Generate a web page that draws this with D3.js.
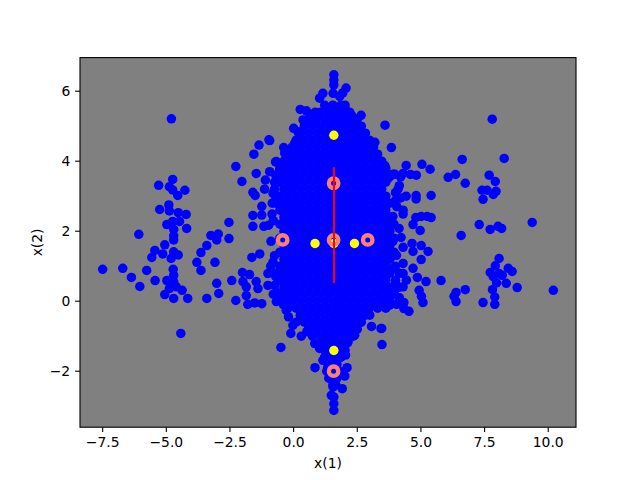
<!DOCTYPE html>
<html>
<head>
<meta charset="utf-8">
<script src="https://cdn.jsdelivr.net/npm/d3@7"></script>
<style>
  html, body { margin: 0; background: #fff; }
  text { font-family: "DejaVu Sans", sans-serif; }
</style>
</head>
<body>
<svg id="chart" width="640" height="480"></svg>
<script>
// tick labels
var xTicks = [-7.5, -5, -2.5, 0, 2.5, 5, 7.5, 10],
    xTickLabels = ["−7.5", "−5.0", "−2.5", "0.0", "2.5", "5.0", "7.5", "10.0"],
    yTicks = [-2, 0, 2, 4, 6],
    yTickLabels = ["−2", "0", "2", "4", "6"];

// blue samples
var leftFar = [[-4.80,5.21],[-4.75,3.48],[-5.30,3.31],[-4.88,3.27],[-4.75,3.18],[-4.27,3.17],[-4.55,3.02],[-5.26,2.62],[-4.90,2.75],[-4.88,2.58],[-4.53,2.53],[-4.22,2.48],[-4.48,2.28],[-4.75,2.28],[-4.98,2.19],[-4.20,2.08],[-4.71,2.05],[-6.08,1.91],[-4.71,1.87],[-4.71,1.75],[-5.06,1.61],[-5.45,1.45],[-5.14,1.35],[-5.57,1.25],[-4.71,1.41],[-4.53,1.32],[-4.81,1.22],[-7.50,0.91],[-6.71,0.94],[-6.37,0.68],[-6.04,0.42],[-5.77,0.88],[-5.44,0.59],[-4.73,0.91],[-4.71,0.74],[-4.98,0.59],[-4.71,0.55],[-4.61,0.41],[-4.88,0.36],[-4.38,0.31],[-5.06,0.19],[-4.71,0.08],[-4.16,0.08],[-4.43,-0.92]];

var leftMid = [[-2.54,2.25],[-2.54,1.79],[-3.25,1.88],[-2.96,1.92],[-3.02,1.75],[-3.41,1.59],[-3.64,1.39],[-3.80,1.11],[-3.64,0.88],[-3.09,1.11],[-3.02,0.51],[-2.43,0.59],[-2.94,0.22],[-3.41,0.08],[-2.27,0.02],[-1.33,1.35],[-1.64,1.25],[-2.01,0.82],[-1.73,0.76],[-1.99,0.56],[-1.47,0.56],[-1.86,0.41],[-1.40,0.36],[-1.01,0.45],[-1.86,0.16],[-1.80,-0.09],[-1.53,-0.05],[-1.25,-0.07],[-0.68,-0.01],[-1.01,0.79],[-0.81,1.12],[-1.36,4.46],[-1.56,4.20],[-0.97,4.61],[-2.27,3.85],[-1.47,3.65],[-2.03,3.42],[-0.94,3.70],[-0.68,3.99],[-1.11,3.46],[-1.14,3.20],[-1.60,3.11],[-1.51,3.02],[-0.81,3.08],[-1.25,2.71],[-0.84,2.80],[-1.60,2.45],[-1.25,2.46],[-0.85,2.49],[-1.60,2.14],[-1.17,2.14],[-0.98,2.17],[-0.89,1.71],[-0.75,0.45],[-0.70,0.70],[-0.65,0.25],[-0.80,0.20],[-0.45,0.00],[-0.90,1.00],[-0.75,1.30],[-0.80,2.30],[-0.70,2.90],[-0.75,3.20],[-0.75,3.40],[-0.20,-0.45],[0.10,-0.60],[-0.40,-0.10],[0.30,-1.00]];

var rightNear = [[3.59,5.03],[3.84,4.39],[3.57,3.88],[4.42,3.88],[5.04,3.91],[5.36,3.77],[3.90,3.63],[4.30,3.65],[4.59,3.62],[4.82,3.60],[3.71,3.51],[4.10,3.20],[4.42,3.00],[4.81,3.02],[4.81,2.92],[5.40,3.02],[4.01,2.89],[4.30,2.60],[4.30,2.49],[3.90,2.42],[4.80,2.39],[5.01,2.42],[5.24,2.42],[5.40,2.39],[4.69,2.19],[4.97,2.02],[4.14,2.08],[4.22,1.82],[3.90,1.71],[4.30,1.54],[4.65,1.65],[5.01,1.59],[4.69,1.42],[5.28,1.42],[5.01,1.19],[4.04,1.31],[4.30,1.08],[4.69,0.94],[3.90,0.94],[4.86,0.68],[5.20,0.56],[5.79,0.59],[4.30,0.79],[4.43,0.60],[4.30,0.41],[4.93,0.31],[5.02,0.14],[5.08,-0.04],[4.53,-0.29],[4.33,-0.04],[4.33,-0.21],[3.77,-0.11],[4.04,-0.09],[3.46,-0.78],[3.51,0.12],[4.00,1.00],[4.15,0.80],[4.00,0.60],[4.15,0.40],[3.95,0.25],[4.15,0.10],[4.00,0.50],[4.15,3.30],[4.00,3.10],[4.20,3.55],[4.20,2.95],[4.05,2.70]];

var rightFar = [[7.80,5.20],[6.62,4.05],[8.27,4.08],[6.07,3.54],[6.36,3.62],[6.74,3.37],[7.68,3.60],[7.92,3.42],[7.40,3.17],[7.60,3.17],[7.84,3.05],[7.95,3.14],[7.44,2.91],[7.29,2.19],[7.72,2.05],[8.03,2.14],[8.17,2.08],[9.37,2.25],[6.58,1.88],[8.07,1.22],[7.92,1.01],[8.43,0.94],[8.58,0.85],[7.72,0.82],[8.07,0.79],[7.84,0.70],[8.19,0.74],[7.97,0.52],[8.35,0.51],[8.78,0.39],[7.81,0.33],[7.90,0.12],[7.90,-0.09],[7.44,-0.04],[10.20,0.31],[6.74,0.33],[6.38,0.25],[6.30,0.14],[6.38,-0.01]];

var topEdge = [[1.58,6.47],[1.58,6.32],[1.58,6.18],[2.06,6.09],[1.15,5.94],[1.02,5.80],[1.81,5.85],[1.55,5.94],[1.93,5.95],[0.26,5.48],[0.50,5.44],[2.65,5.31],[1.02,5.37],[0.70,5.26],[0.37,5.18],[0,4.94],[0.17,4.84],[-0.94,4.59],[0.04,4.51],[-0.39,4.39],[-0.35,4.23],[-0.71,3.98],[-0.55,3.75],[3.19,4.54],[2.92,4.51],[3.58,3.87],[3.97,3.63],[3.78,3.56],[2.40,4.94],[2.01,5.51],[2.27,5.32]];

var bottomEdge = [[1.58,-3.12],[1.58,-2.93],[1.58,-2.74],[1.91,-2.50],[2.01,-2.14],[2.10,-1.90],[0.84,-1.90],[1.42,-2.18],[1.55,-2.45],[1.48,-2.69],[1.15,-1.69],[1.34,-1.89],[2.04,-1.54],[0.83,-1.21],[-0.50,-1.32],[3.47,-1.24],[3.43,-0.78],[3.06,-0.72],[0.52,-0.87],[-0.11,-0.92],[-0.03,-0.69],[-0.29,-0.26],[2.14,-1.16],[2.40,-0.97],[2.72,-0.40],[2.99,-0.40],[1.02,-1.35]];

// dense middle of the cloud, one row per y value
var coreY = [5.6, 5.4, 5.2, 5.0, 4.8, 4.6, 4.4, 4.2, 4.0, 3.8, 3.6, 3.4, 3.2, 3.0, 2.8, 2.6, 2.4, 2.2, 2.0, 1.8, 1.6, 1.4, 1.2, 1.0, 0.8, 0.6, 0.4, 0.2, 0.0, -0.2, -0.4, -0.6, -0.8, -1.0, -1.2, -1.4, -1.6, -1.8, -2.0, -2.2, -2.4];
var coreX = [
  [1.22,1.54,1.86,2.02],
  [0.85,1.06,1.38,1.70,2.02,2.20],
  [0.58,0.90,1.22,1.54,1.86,2.18,2.50],
  [0.42,0.74,1.06,1.38,1.70,2.02,2.34,2.66],
  [0.26,0.58,0.90,1.22,1.54,1.86,2.18,2.50,2.82],
  [0.10,0.42,0.74,1.06,1.38,1.70,2.02,2.34,2.66,2.98],
  [-0.06,0.26,0.58,0.90,1.22,1.54,1.86,2.18,2.50,2.82,3.14],
  [-0.22,0.10,0.42,0.74,1.06,1.38,1.70,2.02,2.34,2.66,2.98,3.30],
  [-0.38,-0.06,0.26,0.58,0.90,1.22,1.54,1.86,2.18,2.50,2.82,3.14,3.46],
  [-0.54,-0.22,0.10,0.42,0.74,1.06,1.38,1.70,2.02,2.34,2.66,2.98,3.30,3.62],
  [-0.70,-0.38,-0.06,0.26,0.58,0.90,1.22,1.54,1.86,2.18,2.50,2.82,3.14,3.46,3.78],
  [-0.54,-0.22,0.10,0.42,0.74,1.06,1.38,1.70,2.02,2.34,2.66,2.98,3.30,3.62],
  [-0.38,-0.06,0.26,0.58,0.90,1.22,1.54,1.86,2.18,2.50,2.82,3.14,3.46],
  [-0.54,-0.22,0.10,0.42,0.74,1.06,1.38,1.70,2.02,2.34,2.66,2.98,3.30,3.62],
  [-0.70,-0.38,-0.06,0.26,0.58,0.90,1.22,1.54,1.86,2.18,2.50,2.82,3.14,3.46,3.78],
  [-0.54,-0.22,0.10,0.42,0.74,1.06,1.38,1.70,2.02,2.34,2.66,2.98,3.30,3.62],
  [-0.38,-0.06,0.26,0.58,0.90,1.22,1.54,1.86,2.18,2.50,2.82,3.14,3.46,3.78],
  [-0.54,-0.22,0.10,0.42,0.74,1.06,1.38,1.70,2.02,2.34,2.66,2.98,3.30,3.62,3.94],
  [-0.38,-0.06,0.26,0.58,0.90,1.22,1.54,1.86,2.18,2.50,2.82,3.14,3.46,3.78],
  [-0.54,-0.22,0.10,0.42,0.74,1.06,1.38,1.70,2.02,2.34,2.66,2.98,3.30,3.62,3.94],
  [-0.38,-0.06,0.26,0.58,0.90,1.22,1.54,1.86,2.18,2.50,2.82,3.14,3.46,3.78],
  [-0.54,-0.22,0.10,0.42,0.74,1.06,1.38,1.70,2.02,2.34,2.66,2.98,3.30,3.62,3.94],
  [-0.38,-0.06,0.26,0.58,0.90,1.22,1.54,1.86,2.18,2.50,2.82,3.14,3.46,3.78],
  [-0.54,-0.22,0.10,0.42,0.74,1.06,1.38,1.70,2.02,2.34,2.66,2.98,3.30,3.62],
  [-0.70,-0.38,-0.06,0.26,0.58,0.90,1.22,1.54,1.86,2.18,2.50,2.82,3.14,3.46,3.78],
  [-0.54,-0.22,0.10,0.42,0.74,1.06,1.38,1.70,2.02,2.34,2.66,2.98,3.30,3.62],
  [-0.38,-0.06,0.26,0.58,0.90,1.22,1.54,1.86,2.18,2.50,2.82,3.14,3.46,3.78],
  [-0.54,-0.22,0.10,0.42,0.74,1.06,1.38,1.70,2.02,2.34,2.66,2.98,3.30,3.62,3.94],
  [-0.38,-0.06,0.26,0.58,0.90,1.22,1.54,1.86,2.18,2.50,2.82,3.14,3.46,3.78],
  [-0.22,0.10,0.42,0.74,1.06,1.38,1.70,2.02,2.34,2.66,2.98,3.30,3.62],
  [0.26,0.58,0.90,1.22,1.54,1.86,2.18,2.50,2.82],
  [0.42,0.74,1.06,1.38,1.70,2.02,2.34,2.66],
  [0.58,0.90,1.22,1.54,1.86,2.18,2.50],
  [0.74,1.06,1.38,1.70,2.02,2.34],
  [1.06,1.22,1.54,1.86,2.10],
  [1.22,1.38,1.70,2.02],
  [1.22,1.54,1.86],
  [1.38,1.70],
  [1.30,1.54,1.80],
  [1.38,1.70],
  [1.54,1.66]
];

// highlighted points and the red segment
var yellowX = [1.58, 0.84, 2.39, 1.58, 1.58],
    yellowY = [4.74, 1.65, 1.65, -1.41, 1.65],
    ringX = [-0.43, 1.57, 2.91, 1.57, 1.57],
    ringY = [1.75, 1.75, 1.75, 3.37, -2.0],
    lineX = [1.585, 1.585],
    lineY = [3.83, 0.52];

var margin = {top: 57.6, right: 64, bottom: 52.8, left: 80},
    width = 640 - margin.left - margin.right,
    height = 480 - margin.top - margin.bottom;

var x = d3.scaleLinear().domain([-8.39, 11.09]).range([0, width]),
    y = d3.scaleLinear().domain([-3.6, 6.96]).range([height, 0]);

var svg = d3.select("#chart").append("g")
    .attr("transform", "translate(" + margin.left + "," + margin.top + ")");

svg.append("rect")
    .attr("width", width)
    .attr("height", height)
    .style("fill", "#808080");

var blue = leftFar.concat(leftMid, rightNear, rightFar, topEdge, bottomEdge);
coreY.forEach(function(v, i) {
  coreX[i].forEach(function(u) { blue.push([u, v]); });
});

svg.append("g").selectAll("circle")
    .data(blue)
  .enter().append("circle")
    .attr("cx", function(d) { return x(d[0]); })
    .attr("cy", function(d) { return y(d[1]); })
    .attr("r", 4.75)
    .style("fill", "#0000ff");

svg.append("g").selectAll("circle")
    .data(yellowX)
  .enter().append("circle")
    .attr("cx", function(d) { return x(d); })
    .attr("cy", function(d, i) { return y(yellowY[i]); })
    .attr("r", 4.7)
    .style("fill", "#ffff00");

svg.append("g").selectAll("circle")
    .data(ringX)
  .enter().append("circle")
    .attr("cx", function(d) { return x(d); })
    .attr("cy", function(d, i) { return y(ringY[i]); })
    .attr("r", 4.7)
    .style("fill", "none")
    .style("stroke", "#fa8072")
    .style("stroke-width", 4.4);

svg.append("line")
    .attr("x1", x(lineX[0]))
    .attr("x2", x(lineX[1]))
    .attr("y1", y(lineY[0]))
    .attr("y2", y(lineY[1]))
    .style("stroke", "#ff0000")
    .style("stroke-width", 2);

// frame on top of the marks
svg.append("rect")
    .attr("width", width)
    .attr("height", height)
    .style("fill", "none")
    .style("stroke", "#000")
    .style("stroke-width", 1.1);

// axes
var xAxis = svg.append("g")
    .attr("transform", "translate(0," + height + ")")
    .call(d3.axisBottom(x)
        .tickValues(xTicks)
        .tickSize(4.9)
        .tickPadding(4.9)
        .offset(0)
        .tickFormat(function(d, i) { return xTickLabels[i]; }));

var yAxis = svg.append("g")
    .call(d3.axisLeft(y)
        .tickValues(yTicks)
        .tickSize(4.9)
        .tickPadding(4.9)
        .offset(0)
        .tickFormat(function(d, i) { return yTickLabels[i]; }));

svg.selectAll(".domain").remove();
svg.selectAll(".tick line").style("stroke", "#000").style("stroke-width", 1.1);
svg.selectAll(".tick text")
    .style("font-size", "13.89px")
    .style("font-family", "'DejaVu Sans'")
    .style("fill", "#000");

// text label for the x axis
svg.append("text")
    .attr("x", width / 2)
    .attr("y", height + 40.5)
    .style("text-anchor", "middle")
    .style("font-size", "13.89px")
    .text("x(1)");

// text label for the y axis
svg.append("text")
    .attr("transform", "translate(-38.5," + (height / 2) + ") rotate(-90)")
    .style("text-anchor", "middle")
    .style("font-size", "13.89px")
    .text("x(2)");
</script>
</body>
</html>
